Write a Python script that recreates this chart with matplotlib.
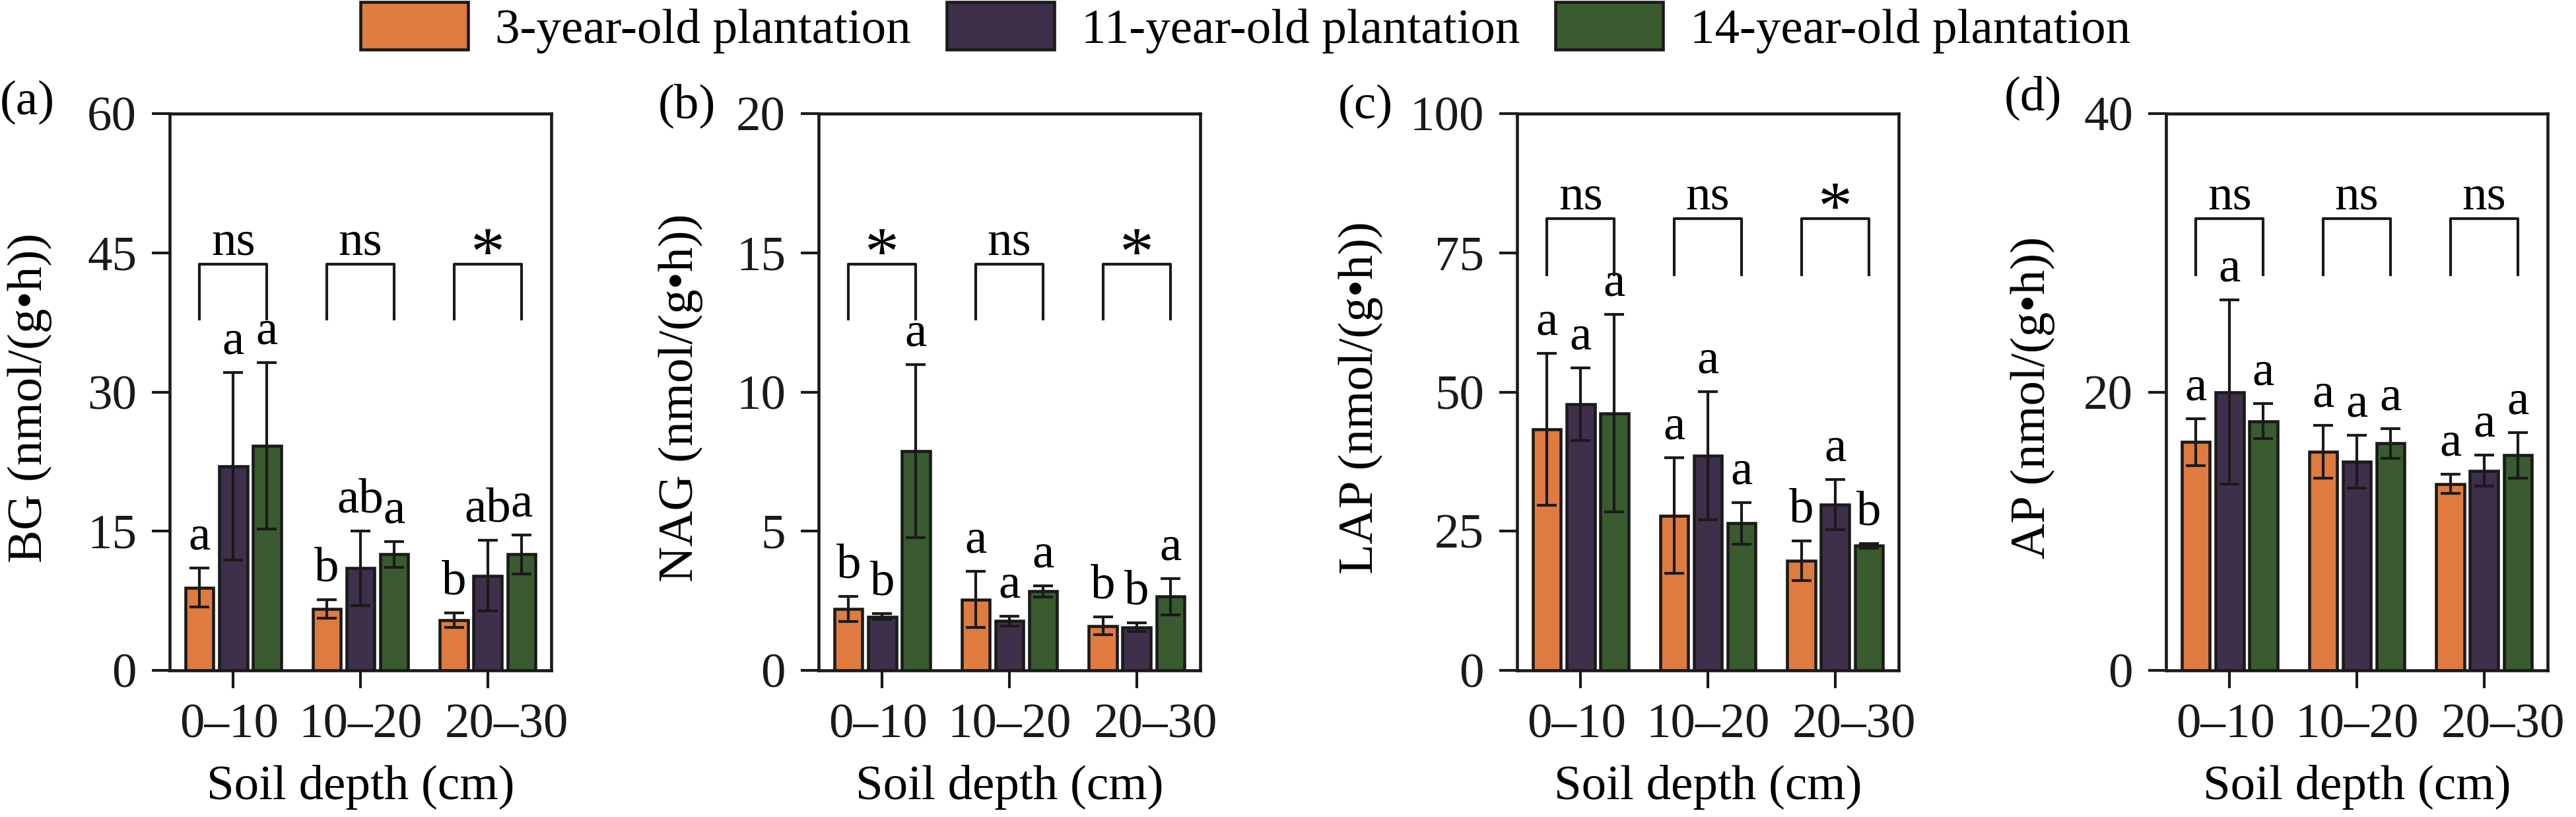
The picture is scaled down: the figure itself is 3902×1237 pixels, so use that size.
import numpy as np
import matplotlib
matplotlib.use('Agg')
import matplotlib.pyplot as plt
import matplotlib.transforms as mtransforms
from matplotlib.patches import Patch

plt.rcParams['font.family'] = ['Liberation Serif', 'DejaVu Serif']
plt.rcParams['font.size'] = 18

# ---- data (rows: 3-, 11-, 14-year-old plantation; cols: soil depth) ----
depths = ['0\u201310', '10\u201320', '20\u201330']
plantations = ['3-year-old plantation', '11-year-old plantation', '14-year-old plantation']
colors = ['#E07B3F', '#3E2F4A', '#3A5A2F']

bg_mean = [[8.9, 6.6, 5.4], [22.0, 11.0, 10.2], [24.2, 12.5, 12.5]]
bg_err = [[2.1, 1.0, 0.8], [10.1, 4.0, 3.8], [9.0, 1.4, 2.1]]
bg_letters = [['a', 'b', 'b'], ['a', 'ab', 'ab'], ['a', 'a', 'a']]
bg_sig = ['ns', 'ns', '*']

nag_mean = [[2.2, 2.55, 1.6], [1.93, 1.77, 1.55], [7.88, 2.84, 2.65]]
nag_err = [[0.45, 1.0, 0.33], [0.1, 0.17, 0.16], [3.1, 0.2, 0.65]]
nag_letters = [['b', 'a', 'b'], ['b', 'a', 'b'], ['a', 'a', 'a']]
nag_sig = ['*', 'ns', '*']

lap_mean = [[43.3, 27.8, 19.7], [47.8, 38.6, 29.8], [46.2, 26.4, 22.4]]
lap_err = [[13.6, 10.4, 3.6], [6.5, 11.5, 4.5], [17.7, 3.7, 0.4]]
lap_letters = [['a', 'a', 'b'], ['a', 'a', 'a'], ['a', 'a', 'b']]
lap_sig = ['ns', 'ns', '*']

ap_mean = [[16.4, 15.7, 13.4], [20.0, 15.0, 14.35], [17.9, 16.3, 15.45]]
ap_err = [[1.7, 1.9, 0.7], [6.6, 1.9, 1.1], [1.25, 1.05, 1.65]]
ap_letters = [['a', 'a', 'a'], ['a', 'a', 'a'], ['a', 'a', 'a']]
ap_sig = ['ns', 'ns', 'ns']

panels = [
    ('(a)', 'BG (nmol/(g\u2022h))', bg_mean, bg_err, bg_letters, bg_sig, 60, [0, 15, 30, 45, 60]),
    ('(b)', 'NAG (nmol/(g\u2022h))', nag_mean, nag_err, nag_letters, nag_sig, 20, [0, 5, 10, 15, 20]),
    ('(c)', 'LAP (nmol/(g\u2022h))', lap_mean, lap_err, lap_letters, lap_sig, 100, [0, 25, 50, 75, 100]),
    ('(d)', 'AP (nmol/(g\u2022h))', ap_mean, ap_err, ap_letters, ap_sig, 40, [0, 20, 40]),
]

# ---- layout ----
W, H = 3902, 1237
fig = plt.figure(figsize=(W / 300, H / 300), dpi=300)
lefts = [257, 1240, 2298, 3281]
ax_w = 578
ax_top, ax_bot = 172, 1015
ylab_x = [-0.366, -0.361, -0.41, -0.349]
plab_x = [0, 997, 2027, 3036]
plab_y = [155, 160, 161, 148]
br_frac = [(0.729, 0.631), (0.729, 0.631), (0.811, 0.711), (0.811, 0.711)]
tick_shift = [-1.5, 0, 7]  # points, x tick labels sit a bit off their ticks

ink = '#1a1a1a'
x = np.arange(3)
bw = 0.22
off = 0.265

for k, (plab, ylab, mean, err, letters, sig, ymax, yticks) in enumerate(panels):
    ax = fig.add_axes([lefts[k] / W, 1 - ax_bot / H, ax_w / W, (ax_bot - ax_top) / H])
    for i in range(3):
        xs = x + (i - 1) * off
        ax.bar(xs, mean[i], bw, color=colors[i], edgecolor=ink, linewidth=1.1, zorder=2)
        ax.errorbar(xs, mean[i], yerr=err[i], fmt='none', ecolor=ink,
                    elinewidth=1.0, capsize=3.5, capthick=1.0, zorder=3)
        for j in range(3):
            ax.annotate(letters[i][j], (xs[j], mean[i][j] + err[i][j]),
                        xytext=(0, 3), textcoords='offset points',
                        ha='center', va='bottom', fontsize=18)
    yt = br_frac[k][0] * ymax
    yb = br_frac[k][1] * ymax
    for j in range(3):
        x0, x1 = x[j] - off, x[j] + off
        ax.plot([x0, x0, x1, x1], [yb, yt, yt, yb], color=ink, lw=1.0, zorder=3)
        if sig[j] == 'ns':
            ax.annotate('ns', (x[j], yt), xytext=(0, 3.6), textcoords='offset points',
                        ha='center', va='baseline', fontsize=18)
        else:
            ax.annotate('*', (x[j], yt), xytext=(0, -3.5), textcoords='offset points',
                        ha='center', va='baseline', fontsize=25)

    ax.set_xlim(-0.5, 2.5)
    ax.set_ylim(0, ymax)
    ax.set_yticks(yticks)
    ax.set_xticks(x)
    ax.set_xticklabels(depths)
    ax.tick_params(direction='out', length=6.5, width=1.0, pad=5.5, labelsize=18, colors=ink)
    for lbl, dx in zip(ax.get_xticklabels(), tick_shift):
        lbl.set_transform(lbl.get_transform() +
                          mtransforms.ScaledTranslation(dx / 72, 0, fig.dpi_scale_trans))
    for s in ax.spines.values():
        s.set_linewidth(1.1)
        s.set_color(ink)
    ax.set_ylabel(ylab, fontsize=18, va='center')
    ax.yaxis.set_label_coords(ylab_x[k], 0.49)
    ax.set_xlabel('Soil depth (cm)', fontsize=18)
    ax.xaxis.set_label_coords(0.5, -0.17)
    fig.text(plab_x[k] / W, 1 - plab_y[k] / H, plab, ha='left', va='center', fontsize=18)

handles = [Patch(facecolor=c, edgecolor=ink, linewidth=1.1) for c in colors]
fig.legend(handles, plantations, loc='center', bbox_to_anchor=(1887 / W, 1 - 42 / H),
           ncol=3, frameon=False, fontsize=18, handlelength=2.17, handleheight=1.1,
           handletextpad=0.55, columnspacing=0.72, borderpad=0, borderaxespad=0)

fig.savefig('out.png', dpi=300)
